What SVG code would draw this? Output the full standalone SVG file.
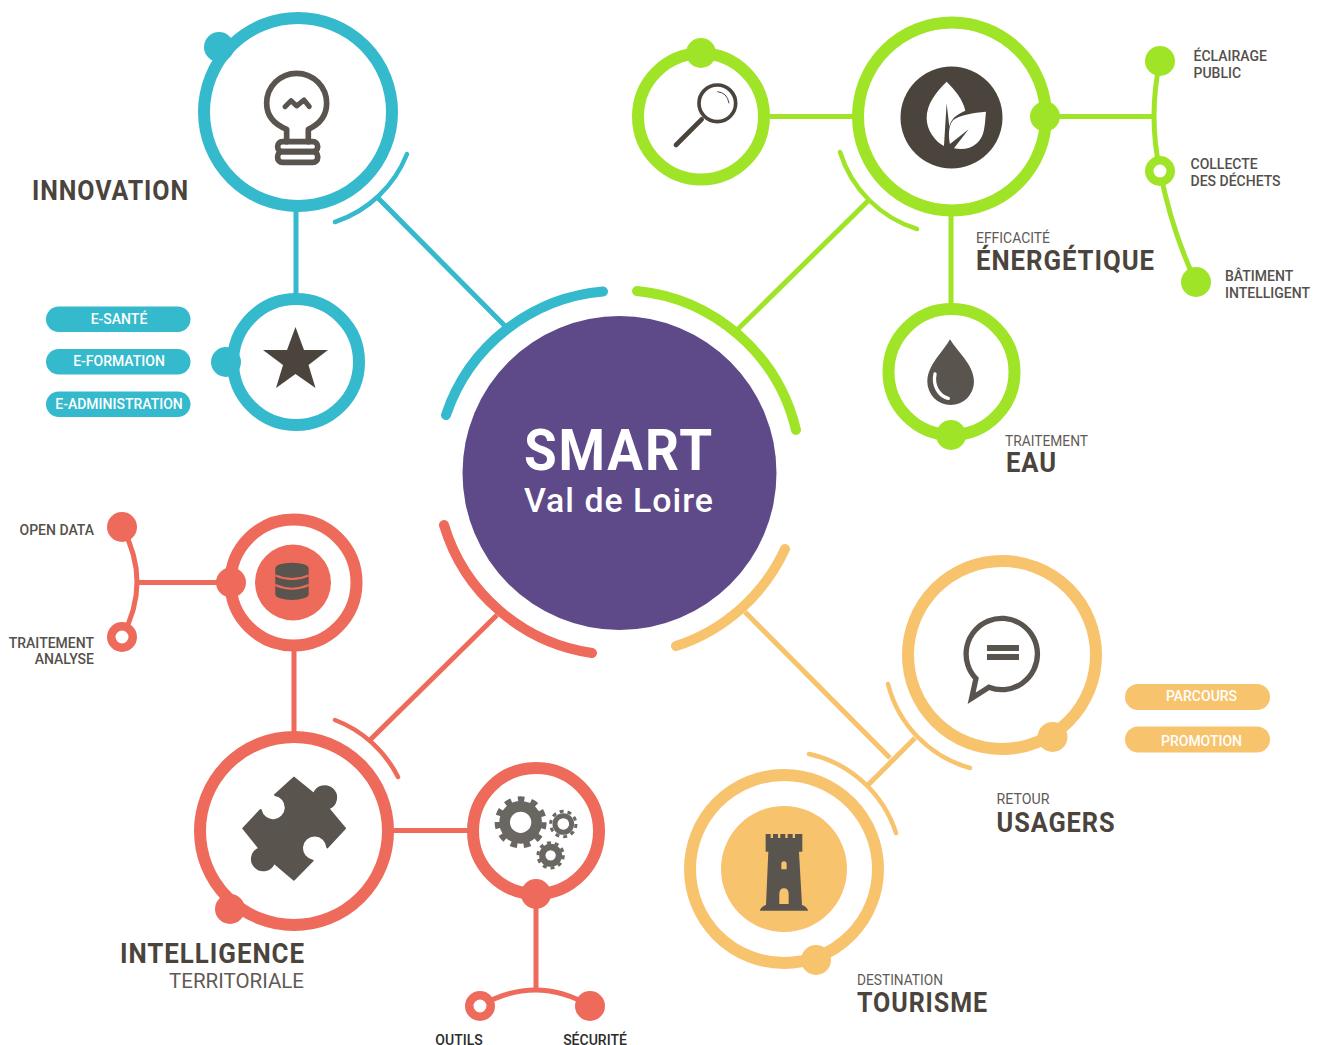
<svg xmlns="http://www.w3.org/2000/svg" width="1320" height="1045" viewBox="0 0 1320 1045">
<style>
.ring{fill:none;stroke-width:12}
.arc{fill:none;stroke-width:4.5;stroke-linecap:round}
.big{fill:none;stroke-width:10;stroke-linecap:round}
.ln{fill:none;stroke-width:5}
.hole{fill:#fff;stroke-width:8.500}
.b{stroke:#35b9cd}.g{stroke:#a0e428}.r{stroke:#ee6a5b}.o{stroke:#f8c36d}
.fb{fill:#35b9cd}.fg{fill:#a0e428}.fr{fill:#ee6a5b}.fo{fill:#f8c36d}
.ic{fill:#5a544f}
text{font-family:Roboto,"Liberation Sans",sans-serif;fill:#55504b}
.h{font-family:Roboto,"Liberation Sans",sans-serif;font-weight:700;fill:#4a443c;letter-spacing:1px}
.s{font-size:14px;font-weight:500}
.t{font-size:14.500px;fill:#5f5a55}
.p{font-size:14px;font-weight:500;fill:#fff;text-anchor:middle}
</style>
<g id="connectors">
<path class="ln b" d="M378 198L505 326M296 208V296"/>
<path class="ln g" d="M869 200L737 330M770 116.500H854M951 214V306M1050 116.500H1155"/>
<path class="ln g" d="M1160 61Q1148 116 1160 171Q1172 232 1196 282"/>
<path class="ln r" d="M370 740L497 615M294 650V735M137 582.500H231M392 830.500H470M536 894V992"/>
<path class="ln r" d="M122 527Q152 582 122 637M480 1006Q536 974 590 1006"/>
<path class="ln o" d="M745 612L890 758M915 738L868 785"/>
</g>
<g id="center">
<circle cx="619.500" cy="473" r="157" fill="#5e4a89"/>
<path class="big b" d="M446 415A182 182 0 0 1 603 291.500"/>
<path class="big g" d="M637 291A182 182 0 0 1 796 430"/>
<path class="big r" d="M444 525A182 182 0 0 0 592 653"/>
<path class="big o" d="M676 646A182 182 0 0 0 785 549"/>
<text x="524" y="470" class="h" style="fill:#fff;font-size:57px;letter-spacing:2px" textLength="190" lengthAdjust="spacingAndGlyphs">SMART</text>
<text x="524" y="512" class="h" style="fill:#fff;font-size:34px;font-weight:500" textLength="190" lengthAdjust="spacingAndGlyphs">Val de Loire</text>
</g>
<g id="innovation">
<circle class="ring b" cx="298" cy="112" r="94"/>
<circle class="fb" cx="219" cy="47" r="15"/>
<path class="arc b" d="M335 222A117 117 0 0 0 407 154"/>
<g transform="translate(190 0) scale(.3333)" fill="none" stroke="#5a544f" stroke-width="17" stroke-linecap="round" stroke-linejoin="round">
<path d="M290 425V388C250 372 230 345 230 310A90 90 0 0 1 410 310C410 345 390 372 355 388V425"/>
<rect x="263" y="425" width="120" height="30" rx="14"/>
<rect x="263" y="455" width="120" height="32" rx="14"/>
<path d="M285 320L303 302L320 318L342 300L358 320" stroke-width="15"/>
</g>
<text x="32" y="200" class="h" style="font-size:27px" textLength="157" lengthAdjust="spacingAndGlyphs">INNOVATION</text>
</g>
<g id="e-services">
<circle class="ring b" cx="296" cy="362" r="63"/>
<circle class="fb" cx="226" cy="362" r="15"/>
<path fill="#4a443c" d="M295.500 327L304 350H328L308.500 365L315.500 388L295.500 374L276 388L283 365L263 350H287Z"/>
<rect class="fb" x="46" y="306.500" width="144.500" height="25.500" rx="12.750"/>
<rect class="fb" x="46" y="349" width="144.500" height="25.500" rx="12.750"/>
<rect class="fb" x="46" y="391.500" width="144.500" height="25.500" rx="12.750"/>
<text x="119" y="324" class="p">E-SANTÉ</text>
<text x="119" y="366" class="p">E-FORMATION</text>
<text x="119" y="409" class="p">E-ADMINISTRATION</text>
</g>
<g id="energie">
<circle class="ring g" cx="952" cy="116.500" r="94"/>
<circle class="fg" cx="1045" cy="116.500" r="15"/>
<path class="arc g" d="M840 152A117 117 0 0 0 917 229"/>
<circle cx="951.500" cy="117.500" r="51" fill="#4a443c"/>
<g transform="translate(620 20) scale(.3333)" fill="#fff">
<path d="M980 185C950 215 920 250 920 295C920 330 945 365 972 378L980 250L988 320C992 300 1005 285 1036 272C1030 240 1005 210 980 185Z"/>
<path d="M1098 275C1060 278 1020 285 1000 300C985 315 985 350 990 372L1046 328L1002 385C1050 395 1085 370 1092 330C1096 310 1096 295 1098 275Z"/>
</g>
<text x="976" y="243" class="t" textLength="74" lengthAdjust="spacingAndGlyphs">EFFICACITÉ</text>
<text x="976" y="270" class="h" style="font-size:27px" textLength="179" lengthAdjust="spacingAndGlyphs">ÉNERGÉTIQUE</text>
</g>
<g id="recherche">
<circle class="ring g" cx="701" cy="116.500" r="63"/>
<circle class="fg" cx="701" cy="53" r="15"/>
<g transform="translate(620 20) scale(.3333)" fill="none" stroke="#4a443c">
<circle cx="292" cy="250" r="55" stroke-width="11"/>
<path d="M245 298L168 375" stroke-width="14" stroke-linecap="round"/>
<path d="M292 215Q322 218 327 250" stroke-width="3"/>
</g>
</g>
<g id="eau">
<circle class="ring g" cx="951.500" cy="372" r="63"/>
<circle class="fg" cx="951" cy="435" r="15"/>
<g transform="translate(880 300) scale(.3333)">
<path class="ic" d="M210 118C190 155 142 195 142 245A70 70 0 0 0 282 245C282 195 232 155 210 118Z"/>
<path d="M165 222C158 255 175 288 205 295" fill="none" stroke="#fff" stroke-width="10" stroke-linecap="round"/>
</g>
<text x="1005" y="445.500" class="t" textLength="83" lengthAdjust="spacingAndGlyphs">TRAITEMENT</text>
<text x="1006" y="472" class="h" style="font-size:27px" textLength="51" lengthAdjust="spacingAndGlyphs">EAU</text>
</g>
<g id="energie-items">
<circle class="fg" cx="1160" cy="61" r="15"/>
<circle class="hole g" cx="1160" cy="171" r="10.750"/>
<circle class="fg" cx="1196" cy="282" r="15"/>
<text class="s" x="1193.500" y="61">ÉCLAIRAGE</text><text class="s" x="1193.500" y="78">PUBLIC</text>
<text class="s" x="1190.500" y="169">COLLECTE</text><text class="s" x="1190.500" y="186">DES DÉCHETS</text>
<text class="s" x="1225" y="281">BÂTIMENT</text><text class="s" x="1225" y="298">INTELLIGENT</text>
</g>
<g id="data">
<circle class="ring r" cx="293.500" cy="582.500" r="63"/>
<circle class="fr" cx="231" cy="582.500" r="15"/>
<circle class="fr" cx="293" cy="582.500" r="38"/>
<g transform="translate(0 500) scale(.3333)">
<path class="ic" d="M826 205A50 17 0 0 1 926 205V283A50 17 0 0 1 826 283Z"/>
<path d="M826 226Q876 248 926 226M826 255Q876 277 926 255" fill="none" stroke="#ee6a5b" stroke-width="6"/>
</g>
<circle class="fr" cx="122" cy="527" r="15"/>
<circle class="hole r" cx="122" cy="637" r="10.750"/>
<text class="s" x="94" y="535" text-anchor="end">OPEN DATA</text>
<text class="s" x="94" y="648" text-anchor="end">TRAITEMENT</text>
<text class="s" x="94" y="664" text-anchor="end">ANALYSE</text>
</g>
<g id="intelligence">
<circle class="ring r" cx="294" cy="831" r="94"/>
<circle class="fr" cx="230" cy="909" r="15"/>
<path class="arc r" d="M335 720A117 117 0 0 1 398 777"/>
<g transform="translate(190 730) scale(.3333)">
<path class="ic" stroke="#5a544f" stroke-width="6" stroke-linejoin="round" d="M312 143L372 192A34 34 0 1 1 415 235L465 295L412 352A38 38 0 1 0 368 392L312 449L252 398A34 34 0 1 1 208 355L160 295L212 240A38 38 0 1 0 255 195Z"/>
</g>
<text x="120" y="963" class="h" style="font-size:27px" textLength="185" lengthAdjust="spacingAndGlyphs">INTELLIGENCE</text>
<text x="169" y="988" style="font-size:20px;fill:#5f5a55" textLength="135" lengthAdjust="spacingAndGlyphs">TERRITORIALE</text>
</g>
<g id="outils">
<circle class="ring r" cx="536" cy="831" r="63"/>
<circle class="fr" cx="536" cy="894" r="15"/>
<g transform="translate(190 730) scale(.3333)" fill="none" stroke="#6a6662">
<circle cx="992" cy="277" r="48" stroke-width="32"/>
<circle cx="992" cy="277" r="70" stroke-width="16" pathLength="22" stroke-dasharray="1 1"/>
<circle cx="1120" cy="282" r="25" stroke-width="15"/>
<circle cx="1120" cy="282" r="38" stroke-width="9" pathLength="20" stroke-dasharray="1 1"/>
<circle cx="1082" cy="376" r="25" stroke-width="19"/>
<circle cx="1082" cy="376" r="38" stroke-width="9" pathLength="20" stroke-dasharray="1 1"/>
</g>
<circle class="hole r" cx="480" cy="1006" r="10.750"/>
<circle class="fr" cx="590" cy="1006" r="15"/>
<text class="s" x="459" y="1044.500" text-anchor="middle" style="fill:#2b2b2b">OUTILS</text>
<text class="s" x="595" y="1044.500" text-anchor="middle" style="fill:#2b2b2b">SÉCURITÉ</text>
</g>
<g id="usagers">
<circle class="ring o" cx="1002" cy="655" r="94"/>
<circle class="fo" cx="1052.500" cy="737" r="15"/>
<path class="arc o" d="M888 684A117 117 0 0 0 970 768"/>
<g transform="translate(679 600) scale(.3333)">
<path fill="none" stroke="#5a544f" stroke-width="16" stroke-miterlimit="10" d="M891 236A107 107 0 1 1 930 262L878 295Z"/>
<rect class="ic" x="924" y="135" width="96" height="18"/>
<rect class="ic" x="924" y="162" width="96" height="18"/>
</g>
<rect class="fo" x="1125" y="684" width="145" height="26" rx="13"/>
<rect class="fo" x="1125" y="726.500" width="145" height="26" rx="13"/>
<text x="1201.500" y="701" class="p">PARCOURS</text>
<text x="1201.500" y="746" class="p">PROMOTION</text>
<text x="996.500" y="804" class="t" textLength="53" lengthAdjust="spacingAndGlyphs">RETOUR</text>
<text x="996.500" y="832" class="h" style="font-size:27px" textLength="119" lengthAdjust="spacingAndGlyphs">USAGERS</text>
</g>
<g id="tourisme">
<circle class="ring o" cx="784" cy="869" r="94"/>
<circle class="fo" cx="816" cy="960" r="15"/>
<path class="arc o" d="M809 754A118 118 0 0 1 896 833"/>
<circle class="fo" cx="784" cy="869" r="63"/>
<g transform="translate(680 600) scale(.3333)">
<path class="ic" d="M257 702H272V714H279V702H294V714H301V702H316V714H323V702H338V714H345V702H367V755H357L366 915C372 916 384 925 384 932H240C240 925 252 916 258 915L265 755H257Z"/>
<path class="fo" d="M304 808V793Q304 784 312 784Q320 784 320 793V808ZM298 912V882Q298 865 312 865Q326 865 326 882V912Z"/>
</g>
<text x="857" y="985" class="t" textLength="86" lengthAdjust="spacingAndGlyphs">DESTINATION</text>
<text x="857" y="1012" class="h" style="font-size:27px" textLength="131" lengthAdjust="spacingAndGlyphs">TOURISME</text>
</g>
</svg>
